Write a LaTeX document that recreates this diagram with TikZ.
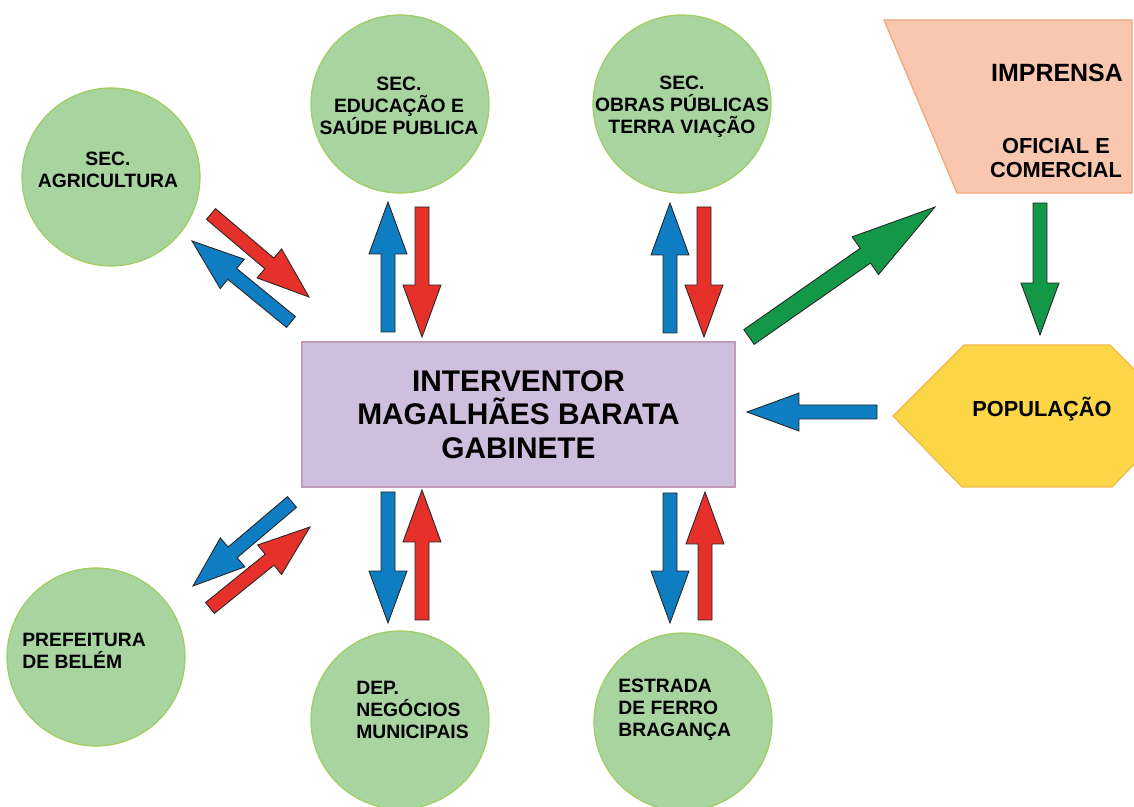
\documentclass[tikz,border=0pt]{standalone}
\usepackage{fontspec}
\setmainfont{Liberation Sans}
\usetikzlibrary{calc}

\definecolor{secfill}{RGB}{168,212,160}
\definecolor{secline}{RGB}{160,205,95}
\definecolor{boxfill}{RGB}{205,191,221}
\definecolor{boxline}{RGB}{195,155,185}
\definecolor{pressfill}{RGB}{249,199,175}
\definecolor{pressline}{RGB}{240,165,120}
\definecolor{popfill}{RGB}{253,214,72}
\definecolor{popline}{RGB}{240,185,80}
\definecolor{arrblue}{RGB}{14,125,194}
\definecolor{arrred}{RGB}{229,49,42}
\definecolor{arrgreen}{RGB}{19,152,72}

% block arrow sizes (half shaft, half head, head length)
\newcommand{\blkshaft}{0.14cm}
\newcommand{\blkhead}{0.38cm}
\newcommand{\blklen}{1.04cm}
% \blockarrow{style}{tail}{tip}
\newcommand{\blockarrow}[3]{%
  \coordinate (hb) at ($(#3)!\blklen!(#2)$);
  \draw[#1] ($(#2)!\blkshaft!90:(#3)$) -- ($(hb)!\blkshaft!-90:(#2)$)
    -- ($(hb)!\blkhead!-90:(#2)$) -- (#3)
    -- ($(hb)!\blkhead!90:(#2)$) -- ($(hb)!\blkshaft!90:(#2)$)
    -- ($(#2)!\blkshaft!-90:(#3)$) -- cycle;}

\tikzset{
    % Secretaria circles
    sec/.style={circle, draw=secline, fill=secfill, line width=0.7pt,
        minimum size=3.56cm, inner sep=0pt},
    sec text/.style={align=center, inner sep=0pt,
        font=\fontsize{11}{12.6}\selectfont\bfseries},
    sec text left/.style={sec text, align=left, anchor=west},
    % Central office box
    office/.style={rectangle, draw=boxline, fill=boxfill, line width=0.7pt,
        minimum width=8.66cm, minimum height=2.9cm, align=center,
        font=\fontsize{17}{19}\selectfont\bfseries},
    % Label only
    label big/.style={font=\fontsize{14.2}{16}\selectfont\bfseries},
    label mid/.style={font=\fontsize{12.4}{13.2}\selectfont\bfseries, align=center},
    % Block arrows
    arr blue/.style={fill=arrblue, draw=black!85, line width=0.5pt},
    arr red/.style={fill=arrred, draw=black!85, line width=0.5pt},
    arr green/.style={fill=arrgreen, draw=black!85, line width=0.5pt},
}

\begin{document}
\begin{tikzpicture}[x=0.02cm, y=-0.02cm]
    \clip (0,0) rectangle (1134,807);
    \fill[white] (0,0) rectangle (1134,807);

    % Centre
    \node[office] (gab) at (518.5,414.5) {INTERVENTOR\\MAGALHÃES BARATA\\GABINETE};

    % Secretarias
    \node[sec] (agri) at (111,177) {};
    \node[sec text] (agri txt) at (108,170) {SEC.\\AGRICULTURA};
    \node[sec] (edu) at (400,104) {};
    \node[sec text] (edu txt) at (399,106) {SEC.\\EDUCAÇÃO E\\SAÚDE PUBLICA};
    \node[sec] (obras) at (682,104) {};
    \node[sec text] (obras txt) at (682,107) {SEC.\\OBRAS PÚBLICAS\\TERRA VIAÇÃO};
    \node[sec] (pref) at (96,657) {};
    \node[sec text left] (pref txt) at (22,651) {PREFEITURA\\DE BELÉM};
    \node[sec] (dep) at (400,720) {};
    \node[sec text left] (dep txt) at (356,710) {DEP.\\NEGÓCIOS\\MUNICIPAIS};
    \node[sec] (efb) at (683,722) {};
    \node[sec text left] (efb txt) at (618,710) {ESTRADA\\DE FERRO\\BRAGANÇA};

    % Imprensa
    \draw[draw=pressline, fill=pressfill, line width=0.7pt]
        (884,20) -- (1132,20) -- (1132,193) -- (957,193) -- cycle;
    \node[label big] (press) at (1057,73) {IMPRENSA};
    \node[label mid] (press2) at (1056,158) {OFICIAL E\\COMERCIAL};

    % Populacao
    \draw[draw=popline, fill=popfill, line width=0.7pt]
        (893,416) -- (964,345) -- (1110,345) -- (1181,416)
        -- (1112,487) -- (962,487) -- cycle;
    \node[label mid] (pop) at (1042,409) {POPULAÇÃO};

    % Arrow ends
    \coordinate (agri r t) at (211,214);  \coordinate (agri r h) at (309,297);
    \coordinate (agri b t) at (291,322);  \coordinate (agri b h) at (192,241);
    \coordinate (edu b t) at (388,332);   \coordinate (edu b h) at (388,202);
    \coordinate (edu r t) at (422,207);   \coordinate (edu r h) at (422,337);
    \coordinate (obr b t) at (670,333);   \coordinate (obr b h) at (670,203);
    \coordinate (obr r t) at (704,207);   \coordinate (obr r h) at (704,337);
    \coordinate (prs g t) at (1040,203);  \coordinate (prs g h) at (1040,335);
    \coordinate (pop b t) at (877,412);   \coordinate (pop b h) at (747,412);
    \coordinate (pre b t) at (292,502);   \coordinate (pre b h) at (193,586);
    \coordinate (pre r t) at (210,608);   \coordinate (pre r h) at (310,527);
    \coordinate (dep b t) at (388,492);   \coordinate (dep b h) at (388,623);
    \coordinate (dep r t) at (422,620);   \coordinate (dep r h) at (422,490);
    \coordinate (efb b t) at (670,493);   \coordinate (efb b h) at (670,623);
    \coordinate (efb r t) at (705,620);   \coordinate (efb r h) at (705,492);
    \coordinate (gab g t) at (749,337);   \coordinate (gab g h) at (935,207);

    % Arrows
    \blockarrow{arr red}{agri r t}{agri r h}
    \blockarrow{arr blue}{agri b t}{agri b h}
    \blockarrow{arr blue}{edu b t}{edu b h}
    \blockarrow{arr red}{edu r t}{edu r h}
    \blockarrow{arr blue}{obr b t}{obr b h}
    \blockarrow{arr red}{obr r t}{obr r h}
    \blockarrow{arr green}{prs g t}{prs g h}
    \blockarrow{arr blue}{pop b t}{pop b h}
    \blockarrow{arr blue}{pre b t}{pre b h}
    \blockarrow{arr red}{pre r t}{pre r h}
    \blockarrow{arr blue}{dep b t}{dep b h}
    \blockarrow{arr red}{dep r t}{dep r h}
    \blockarrow{arr blue}{efb b t}{efb b h}
    \blockarrow{arr red}{efb r t}{efb r h}
    \begin{scope}
        \renewcommand{\blkshaft}{0.18cm}
        \renewcommand{\blkhead}{0.46cm}
        \renewcommand{\blklen}{1.7cm}
        \blockarrow{arr green}{gab g t}{gab g h}
    \end{scope}
\end{tikzpicture}
\end{document}
